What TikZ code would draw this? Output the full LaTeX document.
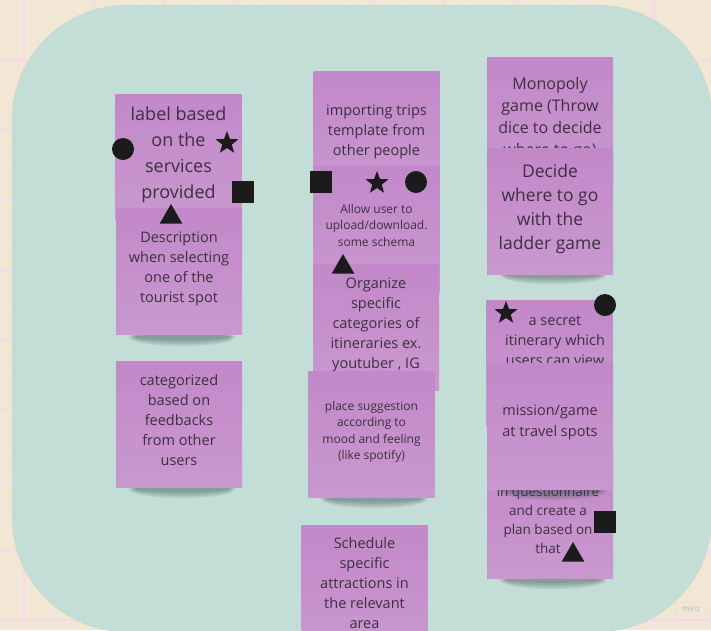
\documentclass[tikz,border=0pt]{standalone}
\usepackage{fontspec}
\setmainfont{Open Sans}
\usetikzlibrary{shapes.geometric}

\definecolor{boardbg}{HTML}{F1E7D4}
\definecolor{gridpink}{HTML}{F8D7EA}
\definecolor{framegreen}{HTML}{C2DED7}
\definecolor{stickytop}{HTML}{C288C9}
\definecolor{stickybot}{HTML}{C998CF}
\definecolor{stickytext}{HTML}{3E2F40}
\definecolor{markblack}{HTML}{1B1B1B}
\definecolor{shadowcol}{HTML}{2F4F47}

\tikzset{
  sticky/.style={rectangle, top color=stickytop, bottom color=stickybot,
    minimum width=126, minimum height=126, inner sep=0pt, align=center,
    text=stickytext, text depth=8pt},
  txtbig/.style={font=\fontsize{18}{26}\selectfont},
  txtmid/.style={font=\fontsize{14.5}{20}\selectfont},
  txtsmall/.style={font=\fontsize{12}{16.5}\selectfont},
  markdot/.style={circle, fill=markblack, minimum size=22, inner sep=0pt},
  marksquare/.style={rectangle, fill=markblack, minimum size=22, inner sep=0pt},
  markstar/.style={star, star points=5, star point ratio=2.4, fill=markblack,
    minimum size=24, inner sep=0pt},
  marktri/.style={regular polygon, regular polygon sides=3, fill=markblack,
    minimum size=26, inner sep=0pt},
  gridline/.style={gridpink, line width=1.5pt},
}

\begin{document}
\begin{tikzpicture}[x=1pt, y=-1pt]

\newcommand\PicW{711}
\newcommand\PicH{630}

\newcommand\NoteShadow[2]{%
  \foreach \r in {3,5,7,9}
    \fill[shadowcol, opacity=.13] (#1,#2+2) ellipse ({44+\r} and \r);
}

\useasboundingbox (0,0) rectangle (\PicW,\PicH);
\clip (0,0) rectangle (\PicW,\PicH);

%% board
\fill[boardbg] (0,0) rectangle (\PicW,\PicH);
\foreach \gx in {24,94,...,654} \draw[gridline] (\gx,0) -- (\gx,\PicH);
\foreach \gy in {60,130,...,620} \draw[gridline] (0,\gy) -- (\PicW,\gy);

\fill[framegreen, draw=black!30, densely dotted, line width=.3pt,
  rounded corners=115] (12,5) rectangle (712,632);

%% left column
\node[sticky, txtbig] (nLabel) at (178.5,157) {label based\\on the\\services\\provided};
\NoteShadow{182}{335}
\node[sticky, txtmid] (nDesc) at (179,271.5) {Description\\when selecting\\one of the\\tourist spot};
\NoteShadow{182}{487}
\node[sticky, txtmid] (nFeedback) at (179,424) {categorized\\based on\\feedbacks\\from other\\users};

\node[markdot] (dotA) at (123,149) {};
\node[markstar] (starA) at (227,143) {};
\node[marksquare] (sqA) at (243,192) {};
\node[marktri] (triA) at (171,217) {};

%% middle column
\node[sticky, txtmid] (nImport) at (376.5,134) {importing trips\\template from\\other people};
\node[sticky, txtsmall] (nUpload) at (376.5,229) {Allow user to\\upload/download.\\some schema};
\node[sticky, txtmid] (nOrganize) at (376,327) {Organize\\specific\\categories of\\itineraries ex.\\youtuber , IG};
\NoteShadow{374}{497}
\node[sticky, txtsmall] (nMood) at (371.5,434.5) {place suggestion\\according to\\mood and feeling\\(like spotify)};
\node[sticky, txtmid, text depth=11pt] (nSchedule) at (364.5,588) {Schedule\\specific\\attractions in\\the relevant\\area};

\node[marksquare] (sqB) at (321,182) {};
\node[markstar] (starB) at (377,183) {};
\node[markdot] (dotB) at (416,182) {};
\node[marktri] (triB) at (343,267) {};

%% right column
\node[sticky, font=\fontsize{16}{22}\selectfont] (nMonopoly) at (550,120) {Monopoly\\game (Throw\\dice to decide\\where to go)};
\NoteShadow{553}{273}
\node[sticky, font=\fontsize{17.5}{24}\selectfont] (nLadder) at (550,211) {Decide\\where to go\\with the\\ladder game};

\node[sticky] (nSecret) at (549.5,363) {};
\node[txtmid, text=stickytext, align=center, anchor=north, inner sep=0pt] (tSecret)
  at (555,316) {a secret\\itinerary which\\users can view};
\NoteShadow{553}{578}
\node[sticky] (nQuiz) at (550,515) {};
\node[font=\fontsize{13.5}{19}\selectfont, text=stickytext, align=center, anchor=north,
  inner sep=0pt] (tQuiz) at (548,486) {in questionnaire\\and create a\\plan based on\\that};
\NoteShadow{553}{489}
\node[sticky, font=\fontsize{14.5}{21}\selectfont, text depth=11pt] (nMission) at (550,426) {mission/game\\at travel spots};

\node[markstar] (starC) at (506,313) {};
\node[markdot] (dotC) at (605,305) {};
\node[marksquare] (sqC) at (605,522) {};
\node[marktri] (triC) at (573,555) {};

%% watermark
\node[draw=gray!35, rounded corners=1.5, text=gray!55, font=\fontsize{8}{8}\selectfont,
  inner sep=0pt, minimum width=32, minimum height=14] (miroTag) at (691,609) {miro};

\end{tikzpicture}
\end{document}
